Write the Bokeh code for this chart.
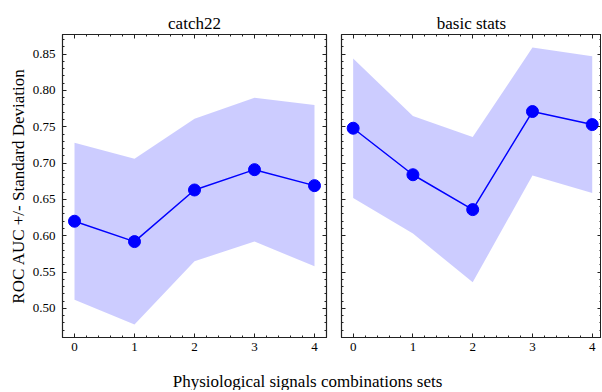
from bokeh.plotting import figure
from bokeh.layouts import row, column
from bokeh.models import LinearAxis, SingleIntervalTicker, Range1d, PrintfTickFormatter
from bokeh.core.properties import value
from bokeh.embed import file_html
from bokeh.resources import INLINE

x_sets = [0, 1, 2, 3, 4]
panel_titles = ["catch22", "basic stats"]
catch22_mean = [0.620, 0.592, 0.663, 0.691, 0.669]
catch22_std = [0.108, 0.114, 0.098, 0.099, 0.111]
basic_mean = [0.748, 0.684, 0.636, 0.771, 0.753]
basic_std = [0.096, 0.081, 0.100, 0.088, 0.094]
y_label = "ROC AUC +/- Standard Deviation"
x_label = "Physiological signals combinations sets"

FONT = "'Liberation Serif', 'Times New Roman', serif"
BLUE = "#0000ff"
AXIS_COLOR = "#222222"


def style_axis(ax, ticker, show_labels, fmt=None):
    ax.ticker = ticker
    if fmt is not None:
        ax.formatter = fmt
    ax.axis_line_color = AXIS_COLOR
    ax.axis_line_width = 1.2
    ax.major_tick_in = 4
    ax.major_tick_out = 0
    ax.minor_tick_in = 2
    ax.minor_tick_out = 0
    ax.major_tick_line_color = AXIS_COLOR
    ax.minor_tick_line_color = AXIS_COLOR
    ax.major_label_text_font = FONT
    ax.major_label_text_font_size = "13px"
    ax.major_label_text_color = "black"
    ax.axis_label_text_font = FONT
    ax.axis_label_text_font_size = "17px"
    ax.axis_label_text_font_style = "normal"
    ax.axis_label_text_color = "black"
    if not show_labels:
        ax.major_label_text_font_size = "0px"
        ax.major_label_standoff = 0
        ax.axis_label_standoff = 0


def make_panel(title, mean, std, fw, xr, left_labels, mbl, mbr):
    upper = [m + s for m, s in zip(mean, std)]
    lower = [m - s for m, s in zip(mean, std)]
    p = figure(frame_width=fw, frame_height=303, x_range=Range1d(*xr), y_range=Range1d(0.460, 0.877),
               toolbar_location=None, output_backend="svg", title=title,
               min_border_left=mbl, min_border_right=mbr, min_border_top=34, min_border_bottom=21)
    p.title.text_font = FONT
    p.title.text_font_size = "17px"
    p.title.text_font_style = "normal"
    p.title.align = "center"
    p.title.text_color = "black"
    p.title.standoff = 4
    p.grid.visible = False
    p.outline_line_color = AXIS_COLOR
    p.background_fill_color = "white"
    p.border_fill_color = "white"

    xt = lambda: SingleIntervalTicker(interval=1, num_minor_ticks=5)
    yt = lambda: SingleIntervalTicker(interval=0.05, num_minor_ticks=5)
    style_axis(p.xaxis[0], xt(), True)
    p.xaxis[0].major_label_standoff = 5
    style_axis(p.yaxis[0], yt(), left_labels, PrintfTickFormatter(format="%.2f"))
    if left_labels:
        p.yaxis[0].major_label_standoff = 7
        p.yaxis[0].axis_label = y_label
        p.yaxis[0].axis_label_standoff = 2

    top = LinearAxis()
    style_axis(top, xt(), False)
    p.add_layout(top, "above")
    right = LinearAxis()
    style_axis(right, yt(), False)
    p.add_layout(right, "right")

    p.varea(x=x_sets, y1=lower, y2=upper, fill_color=BLUE, fill_alpha=0.2)
    p.line(x=x_sets, y=mean, line_color=BLUE, line_width=1.5)
    p.scatter(x=x_sets, y=mean, size=12, fill_color=BLUE, line_color=BLUE)
    return p


p1 = make_panel(panel_titles[0], catch22_mean, catch22_std, 264, (-0.2, 4.2), True, 62, 7)
p2 = make_panel(panel_titles[1], basic_mean, basic_std, 260, (-0.195, 4.155), False, 8, 0)

p3 = figure(width=602, height=32, toolbar_location=None, output_backend="svg",
            x_range=Range1d(0, 602), y_range=Range1d(32, 0),
            min_border_left=0, min_border_right=0, min_border_top=0, min_border_bottom=0)
p3.axis.visible = False
p3.grid.visible = False
p3.outline_line_color = None
p3.text(x=[307], y=[23], text=[x_label], text_font=value(FONT), text_font_size="17px",
        text_align="center", text_baseline="middle", text_color="black")

layout = column(row(p1, p2), p3)
open("out.html", "w").write(file_html(layout, INLINE))
